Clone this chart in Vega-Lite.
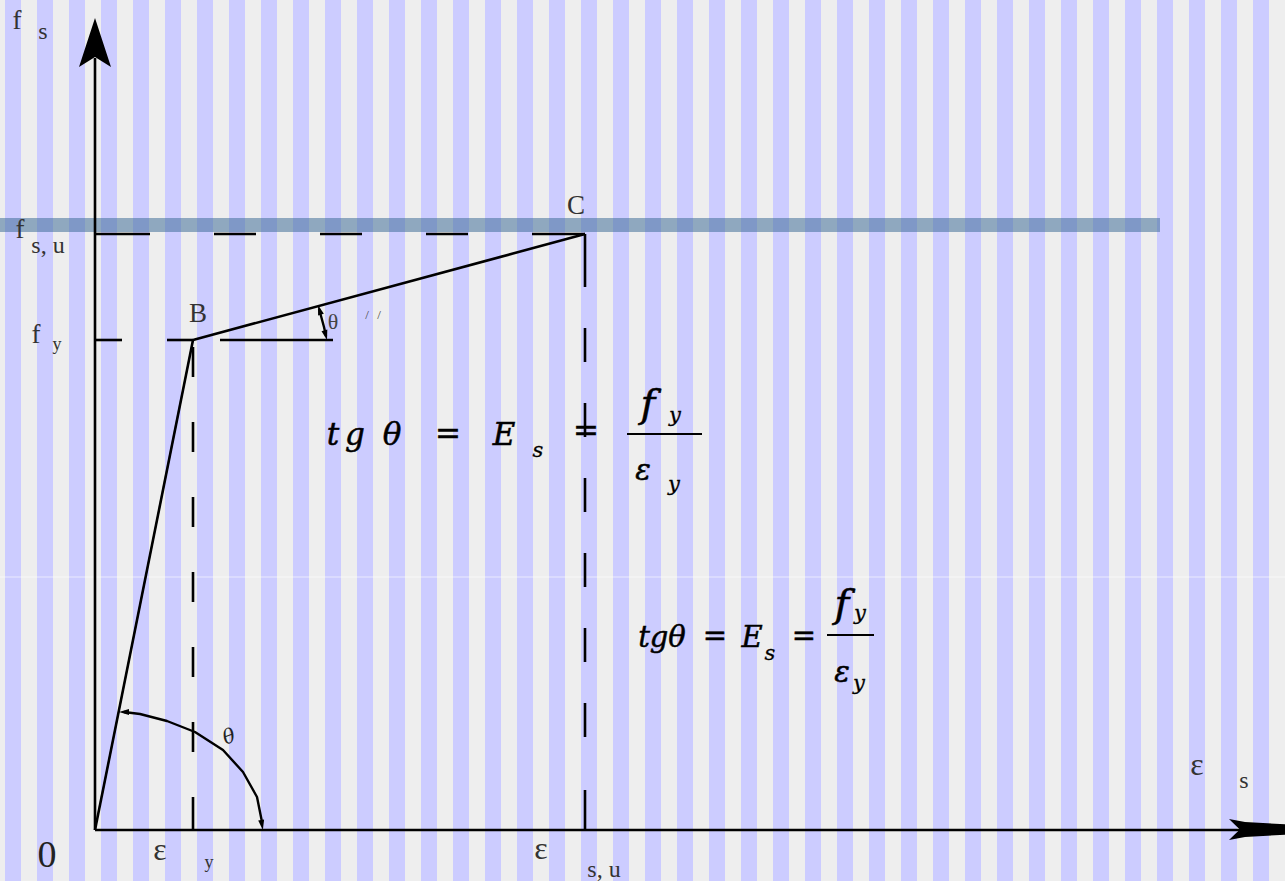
{
  "$schema": "https://vega.github.io/schema/vega-lite/v6.json",
  "width": 1285,
  "height": 881,
  "padding": 0,
  "autosize": {"type": "none"},
  "background": "#eeeeee",
  "config": {"view": {"stroke": null}},
  "datasets": {
    "stripes": [
      {"x": 5, "x2": 21}, {"x": 37, "x2": 53}, {"x": 69, "x2": 85}, {"x": 101, "x2": 117},
      {"x": 133, "x2": 149}, {"x": 165, "x2": 181}, {"x": 197, "x2": 213}, {"x": 229, "x2": 245},
      {"x": 261, "x2": 277}, {"x": 293, "x2": 309}, {"x": 325, "x2": 341}, {"x": 357, "x2": 373},
      {"x": 389, "x2": 405}, {"x": 421, "x2": 437}, {"x": 453, "x2": 469}, {"x": 485, "x2": 501},
      {"x": 517, "x2": 533}, {"x": 549, "x2": 565}, {"x": 581, "x2": 597}, {"x": 613, "x2": 629},
      {"x": 645, "x2": 661}, {"x": 677, "x2": 693}, {"x": 709, "x2": 725}, {"x": 741, "x2": 757},
      {"x": 773, "x2": 789}, {"x": 805, "x2": 821}, {"x": 837, "x2": 853}, {"x": 869, "x2": 885},
      {"x": 901, "x2": 917}, {"x": 933, "x2": 949}, {"x": 965, "x2": 981}, {"x": 997, "x2": 1013},
      {"x": 1029, "x2": 1045}, {"x": 1061, "x2": 1077}, {"x": 1093, "x2": 1109}, {"x": 1125, "x2": 1141},
      {"x": 1157, "x2": 1173}, {"x": 1189, "x2": 1205}, {"x": 1221, "x2": 1237}, {"x": 1253, "x2": 1269}
    ],
    "segments": [
      {"part": "stress axis", "x": 95, "y": 830, "x2": 95, "y2": 58},
      {"part": "strain axis", "x": 95, "y": 830, "x2": 1241, "y2": 830},
      {"part": "elastic OB", "x": 95, "y": 830, "x2": 193, "y2": 340},
      {"part": "hardening BC", "x": 193, "y": 340, "x2": 585, "y2": 234},
      {"part": "fsu dash", "x": 95, "y": 234, "x2": 150, "y2": 234},
      {"part": "fsu dash", "x": 214, "y": 234, "x2": 256, "y2": 234},
      {"part": "fsu dash", "x": 320, "y": 234, "x2": 362, "y2": 234},
      {"part": "fsu dash", "x": 426, "y": 234, "x2": 468, "y2": 234},
      {"part": "fsu dash", "x": 532, "y": 234, "x2": 585, "y2": 234},
      {"part": "fy dash", "x": 95, "y": 340, "x2": 122, "y2": 340},
      {"part": "fy dash", "x": 167, "y": 340, "x2": 193, "y2": 340},
      {"part": "theta ref", "x": 220, "y": 340, "x2": 333, "y2": 340},
      {"part": "eps y dash", "x": 193, "y": 347, "x2": 193, "y2": 377},
      {"part": "eps y dash", "x": 193, "y": 422, "x2": 193, "y2": 452},
      {"part": "eps y dash", "x": 193, "y": 497, "x2": 193, "y2": 527},
      {"part": "eps y dash", "x": 193, "y": 572, "x2": 193, "y2": 602},
      {"part": "eps y dash", "x": 193, "y": 647, "x2": 193, "y2": 677},
      {"part": "eps y dash", "x": 193, "y": 722, "x2": 193, "y2": 752},
      {"part": "eps y dash", "x": 193, "y": 797, "x2": 193, "y2": 830},
      {"part": "eps su dash", "x": 585, "y": 234, "x2": 585, "y2": 287},
      {"part": "eps su dash", "x": 585, "y": 328, "x2": 585, "y2": 362},
      {"part": "eps su dash", "x": 585, "y": 403, "x2": 585, "y2": 437},
      {"part": "eps su dash", "x": 585, "y": 478, "x2": 585, "y2": 512},
      {"part": "eps su dash", "x": 585, "y": 553, "x2": 585, "y2": 587},
      {"part": "eps su dash", "x": 585, "y": 628, "x2": 585, "y2": 662},
      {"part": "eps su dash", "x": 585, "y": 703, "x2": 585, "y2": 737},
      {"part": "eps su dash", "x": 585, "y": 790, "x2": 585, "y2": 830}
    ],
    "fractionBars": [
      {"x": 627, "y": 434, "x2": 702, "y2": 434},
      {"x": 827, "y": 635, "x2": 874, "y2": 635}
    ],
    "arcs": [
      {"arc": "theta", "i": 0, "x": 124, "y": 712},
      {"arc": "theta", "i": 1, "x": 140, "y": 714},
      {"arc": "theta", "i": 2, "x": 167, "y": 721},
      {"arc": "theta", "i": 3, "x": 195, "y": 732},
      {"arc": "theta", "i": 4, "x": 223, "y": 750},
      {"arc": "theta", "i": 5, "x": 243, "y": 772},
      {"arc": "theta", "i": 6, "x": 257, "y": 797},
      {"arc": "theta", "i": 7, "x": 262, "y": 822},
      {"arc": "theta2", "i": 0, "x": 319, "y": 309},
      {"arc": "theta2", "i": 1, "x": 321, "y": 316},
      {"arc": "theta2", "i": 2, "x": 324, "y": 327},
      {"arc": "theta2", "i": 3, "x": 326, "y": 336}
    ],
    "arcHeads": [
      {"x": 124, "y": 712, "heading": 270},
      {"x": 262, "y": 825, "heading": 170},
      {"x": 319.5, "y": 309.8, "heading": 343},
      {"x": 325.7, "y": 335.2, "heading": 165}
    ]
  },
  "encoding": {
    "x": {"field": "x", "type": "quantitative", "scale": {"domain": [0, 1285], "nice": false, "zero": false}, "axis": null},
    "y": {"field": "y", "type": "quantitative", "scale": {"domain": [0, 881], "nice": false, "zero": false, "reverse": true}, "axis": null}
  },
  "layer": [
    {
      "data": {"name": "stripes"},
      "transform": [{"calculate": "0", "as": "y"}, {"calculate": "881", "as": "y2"}],
      "mark": {"type": "rect", "color": "#ccccff"},
      "encoding": {"x2": {"field": "x2"}, "y2": {"field": "y2"}}
    },
    {
      "data": {"values": [{"x": 0, "y": 577, "x2": 1285, "y2": 577}]},
      "mark": {"type": "rule", "color": "#ffffff", "opacity": 0.6, "strokeWidth": 1},
      "encoding": {"x2": {"field": "x2"}, "y2": {"field": "y2"}}
    },
    {
      "data": {"values": [{"x": 0, "y": 218, "x2": 1160, "y2": 232}]},
      "mark": {"type": "rect", "color": "#3b6a95", "opacity": 0.53},
      "encoding": {"x2": {"field": "x2"}, "y2": {"field": "y2"}}
    },
    {
      "data": {"name": "segments"},
      "mark": {"type": "rule", "color": "#000000", "strokeWidth": 2.6, "strokeCap": "butt"},
      "encoding": {"x2": {"field": "x2"}, "y2": {"field": "y2"}}
    },
    {
      "data": {"name": "fractionBars"},
      "mark": {"type": "rule", "color": "#000000", "strokeWidth": 2},
      "encoding": {"x2": {"field": "x2"}, "y2": {"field": "y2"}}
    },
    {
      "data": {"name": "arcs"},
      "mark": {"type": "line", "color": "#000000", "strokeWidth": 2.4, "strokeJoin": "round"},
      "encoding": {"detail": {"field": "arc"}, "order": {"field": "i", "type": "quantitative"}}
    },
    {
      "data": {"values": [{"x": 95, "y": 42.5}]},
      "mark": {"type": "point", "filled": true, "color": "#000000", "opacity": 1, "size": 2500,
               "shape": "M0,-0.98L0.64,0.98L0,0.58L-0.64,0.98Z"}
    },
    {
      "data": {"values": [{"x": 1267, "y": 829.5}]},
      "mark": {"type": "point", "filled": true, "color": "#000000", "opacity": 1, "size": 6400,
               "shape": "M0.95,0L0.45,-0.13L-0.55,-0.19L-0.95,-0.26L-0.68,0L-0.95,0.26L-0.55,0.19L0.45,0.13Z"}
    },
    {
      "data": {"name": "arcHeads"},
      "mark": {"type": "point", "filled": true, "color": "#000000", "opacity": 1, "size": 100,
               "shape": "M0,-1L0.6,1L-0.6,1Z"},
      "encoding": {"angle": {"field": "heading", "type": "quantitative", "scale": null}}
    },
    {
      "data": {"values": [
        {"t": "f", "x": 17, "y": 29}, {"t": "f", "x": 20, "y": 238}, {"t": "f", "x": 36, "y": 343},
        {"t": "B", "x": 198, "y": 322}, {"t": "C", "x": 576, "y": 214}
      ]},
      "mark": {"type": "text", "font": "Liberation Serif", "fontSize": 27, "color": "#333333", "align": "center", "baseline": "alphabetic"},
      "encoding": {"text": {"field": "t"}}
    },
    {
      "data": {"values": [
        {"t": "s", "x": 43, "y": 39}, {"t": "s, u", "x": 48, "y": 253},
        {"t": "s, u", "x": 604, "y": 877}, {"t": "s", "x": 1244, "y": 788}
      ]},
      "mark": {"type": "text", "font": "Liberation Serif", "fontSize": 24, "color": "#333333", "align": "center", "baseline": "alphabetic"},
      "encoding": {"text": {"field": "t"}}
    },
    {
      "data": {"values": [{"t": "y", "x": 57, "y": 350}, {"t": "y", "x": 209, "y": 868}]},
      "mark": {"type": "text", "font": "Liberation Serif", "fontSize": 18, "color": "#333333", "align": "center", "baseline": "alphabetic"},
      "encoding": {"text": {"field": "t"}}
    },
    {
      "data": {"values": [{"t": "ε", "x": 160, "y": 860}, {"t": "ε", "x": 541, "y": 859}, {"t": "ε", "x": 1197, "y": 775}]},
      "mark": {"type": "text", "font": "Liberation Serif", "fontSize": 32, "color": "#333333", "align": "center", "baseline": "alphabetic"},
      "encoding": {"text": {"field": "t"}}
    },
    {
      "data": {"values": [{"t": "0", "x": 47, "y": 867}]},
      "mark": {"type": "text", "font": "Liberation Serif", "fontSize": 38, "color": "#222222", "align": "center", "baseline": "alphabetic"},
      "encoding": {"text": {"field": "t"}}
    },
    {
      "data": {"values": [{"t": "θ", "x": 333, "y": 329}]},
      "mark": {"type": "text", "font": "Liberation Serif", "fontSize": 22, "color": "#444444", "align": "center", "baseline": "alphabetic"},
      "encoding": {"text": {"field": "t"}}
    },
    {
      "data": {"values": [{"t": "/", "x": 367, "y": 319}, {"t": "/", "x": 379, "y": 319}]},
      "mark": {"type": "text", "font": "Liberation Serif", "fontSize": 13, "color": "#444444", "align": "center", "baseline": "alphabetic"},
      "encoding": {"text": {"field": "t"}}
    },
    {
      "data": {"values": [{"t": "θ", "x": 229, "y": 737}]},
      "mark": {"type": "text", "font": "DejaVu Serif", "fontStyle": "italic", "fontSize": 20, "angle": 340, "color": "#222222", "align": "center", "baseline": "middle"},
      "encoding": {"text": {"field": "t"}}
    },
    {
      "data": {"values": [
        {"t": "t", "x": 333, "y": 445}, {"t": "g", "x": 355, "y": 445}, {"t": "θ", "x": 392, "y": 445},
        {"t": "=", "x": 448, "y": 444}, {"t": "E", "x": 504, "y": 445}, {"t": "=", "x": 586, "y": 441}
      ]},
      "mark": {"type": "text", "font": "DejaVu Serif", "fontStyle": "italic", "fontSize": 31, "color": "#000000",
               "stroke": "#000000", "strokeWidth": 0.5, "align": "center", "baseline": "alphabetic"},
      "encoding": {"text": {"field": "t"}}
    },
    {
      "data": {"values": [
        {"t": "tgθ", "x": 662, "y": 647}, {"t": "=", "x": 715, "y": 645},
        {"t": "E", "x": 752, "y": 647}, {"t": "=", "x": 804, "y": 645}
      ]},
      "mark": {"type": "text", "font": "DejaVu Serif", "fontStyle": "italic", "fontSize": 29, "color": "#000000",
               "stroke": "#000000", "strokeWidth": 0.5, "align": "center", "baseline": "alphabetic"},
      "encoding": {"text": {"field": "t"}}
    },
    {
      "data": {"values": [{"t": "f", "x": 648, "y": 417}, {"t": "f", "x": 842, "y": 617}]},
      "mark": {"type": "text", "font": "DejaVu Serif", "fontStyle": "italic", "fontSize": 40, "color": "#000000",
               "stroke": "#000000", "strokeWidth": 0.5, "align": "center", "baseline": "alphabetic"},
      "encoding": {"text": {"field": "t"}}
    },
    {
      "data": {"values": [{"t": "ε", "x": 643, "y": 480}, {"t": "ε", "x": 842, "y": 682}]},
      "mark": {"type": "text", "font": "DejaVu Serif", "fontStyle": "italic", "fontSize": 29, "color": "#000000",
               "stroke": "#000000", "strokeWidth": 0.5, "align": "center", "baseline": "alphabetic"},
      "encoding": {"text": {"field": "t"}}
    },
    {
      "data": {"values": [
        {"t": "s", "x": 538, "y": 457}, {"t": "y", "x": 675, "y": 422}, {"t": "y", "x": 674, "y": 491},
        {"t": "s", "x": 770, "y": 660}, {"t": "y", "x": 860, "y": 620}, {"t": "y", "x": 859, "y": 690}
      ]},
      "mark": {"type": "text", "font": "DejaVu Serif", "fontStyle": "italic", "fontSize": 21, "color": "#000000",
               "stroke": "#000000", "strokeWidth": 0.3, "align": "center", "baseline": "alphabetic"},
      "encoding": {"text": {"field": "t"}}
    }
  ]
}
